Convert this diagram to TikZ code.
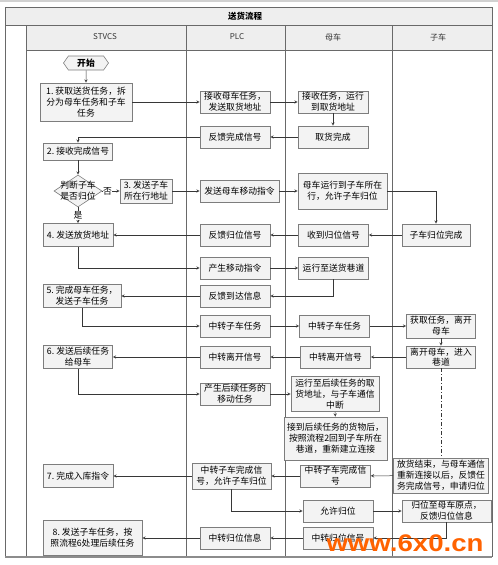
\documentclass[tikz,border=0pt]{standalone}
\usepackage{fontspec}
\usepackage{tikz}
\usetikzlibrary{shapes.geometric, shapes.symbols, arrows, shadows}
\newfontfamily\cjk{Noto Sans CJK SC}
\newfontfamily\markfont{Liberation Sans}
\definecolor{laneline}{RGB}{105,105,105}
\definecolor{boxfill}{RGB}{243,243,243}
\definecolor{boxdraw}{RGB}{125,125,125}
\definecolor{headfill}{RGB}{238,238,238}
\definecolor{linkgray}{RGB}{55,55,55}
\definecolor{markorange}{RGB}{255,98,0}
\tikzset{
  box/.style={rectangle, minimum width=70pt, minimum height=22pt, inner sep=1pt,
    align=center, draw=boxdraw, line width=0.6pt, fill=boxfill,
    font=\cjk\fontsize{8.8}{10.8}\selectfont,
    drop shadow={shadow xshift=0.8pt, shadow yshift=-0.8pt, fill=black!30}},
  decision/.style={diamond, minimum width=48pt, minimum height=32pt, inner sep=0pt,
    draw=boxdraw, line width=0.6pt, fill=boxfill},
  startend/.style={signal, signal to=west and east, signal pointer angle=110,
    minimum width=45pt, minimum height=14pt, inner sep=0pt, draw=boxdraw,
    line width=0.6pt, fill=boxfill, font=\cjk\fontsize{8.8}{10.8}\selectfont\bfseries},
  lanehead/.style={font=\cjk\fontsize{8}{10}\selectfont, text=black!80},
  tag/.style={font=\cjk\fontsize{8.8}{10.8}\selectfont, fill=white, inner sep=0.5pt},
  arrow/.style={->, >=stealth, draw=linkgray, line width=0.5pt},
  subpath/.style={draw=linkgray, line width=0.5pt, dash pattern=on 4pt off 2pt on 1pt off 2pt}
}
\begin{document}
\begin{tikzpicture}[x=1pt, y=-1pt]
\useasboundingbox (0,0) rectangle (498,565);
% frame, title and lanes
\fill[black!18] (0,0) rectangle (498,2);
\fill[headfill] (5,7) rectangle (492,25);
\fill[headfill] (26,25) rectangle (492,50);
\draw[laneline, line width=0.8pt] (5,7) rectangle (492,556);
\draw[black!45, line width=1.6pt] (5,557) -- (492,557);
\draw[laneline, line width=0.6pt] (5,25) -- (492,25);
\draw[laneline, line width=0.6pt] (26,50) -- (492,50);
\foreach \lx in {26,186,285,392}
  \draw[laneline, line width=0.7pt] (\lx,25) -- (\lx,556);
\node (title) [font=\cjk\fontsize{8.5}{10}\selectfont\bfseries] at (245,16) {送货流程};
\node (hstv) [lanehead] at (105,37) {STVCS};
\node (hplc) [lanehead] at (237,37) {PLC};
\node (hmom) [lanehead] at (333,37) {母车};
\node (hsub) [lanehead] at (438,37) {子车};

% STVCS
\node (start) [startend] at (86,63) {开始};
\node (stv1) [box, minimum width=92pt, minimum height=38pt] at (86,102) {1.\ 获取送货任务，拆\\分为母车任务和子车\\任务};
\node (stv2) [box, minimum width=69pt, minimum height=17pt] at (78,151.5) {2.\ 接收完成信号};
\node (dec) [decision, label={[font=\cjk\fontsize{8.8}{10.8}\selectfont, align=center]center:判断子车\\是否归位}] at (78,191) {};
\node (stv3) [box, minimum width=52pt, minimum height=24pt] at (146,191) {3.\ 发送子车\\所在行地址};
\node (stv4) [box, minimum width=70pt, minimum height=23pt] at (78,235) {4.\ 发送放货地址};
\node (stv5) [box, minimum width=78pt, minimum height=23pt] at (82,296) {5.\ 完成母车任务，\\发送子车任务};
\node (stv6) [box, minimum width=69pt, minimum height=23pt] at (78,357) {6.\ 发送后续任务\\给母车};
\node (stv7) [box, minimum width=70pt, minimum height=23pt] at (78,476) {7.\ 完成入库指令};
\node (stv8) [box, minimum width=99pt, minimum height=35pt] at (92.5,538) {8.\ 发送子车任务，按\\照流程6处理后续任务};

% PLC
\node (plc1) [box] at (235,102) {接收母车任务，\\发送取货地址};
\node (plc2) [box] at (235,137) {反馈完成信号};
\node (plc3) [box, minimum width=79pt] at (239.5,191) {发送母车移动指令};
\node (plc4) [box] at (235,235) {反馈归位信号};
\node (plc5) [box] at (235,268) {产生移动指令};
\node (plc6) [box] at (235,296) {反馈到达信息};
\node (plc7) [box] at (235,326) {中转子车任务};
\node (plc8) [box] at (235,357) {中转离开信号};
\node (plc9) [box] at (235,394) {产生后续任务的\\移动任务};
\node (plc10) [box, minimum width=79pt, minimum height=26pt] at (231.5,476) {中转子车完成信\\号，允许子车归位};
\node (plc11) [box] at (235,538) {中转归位信息};

% 母车
\node (mom1) [box] at (333,102) {接收任务，运行\\到取货地址};
\node (mom2) [box] at (333,137) {取货完成};
\node (mom3) [box, minimum width=89pt, minimum height=36pt] at (342.5,191) {母车运行到子车所在\\行，允许子车归位};
\node (mom4) [box] at (333.5,235) {收到归位信号};
\node (mom5) [box] at (333.5,268) {运行至送货巷道};
\node (mom6) [box] at (334.5,326) {中转子车任务};
\node (mom7) [box] at (335.5,357) {中转离开信号};
\node (mom8) [box, minimum width=88pt, minimum height=35pt] at (335,394) {运行至后续任务的取\\货地址，与子车通信\\中断};
\node (mom9) [box, minimum width=103pt, minimum height=43pt] at (335.5,438.5) {接到后续任务的货物后，\\按照流程2回到子车所在\\巷道，重新建立连接};
\node (mom10) [box] at (335.5,476) {中转子车完成信\\号};
\node (mom11) [box] at (338,511) {允许归位};
\node (mom12) [box] at (338,538) {中转归位信号};

% 子车
\node (sub1) [box, minimum width=68pt] at (436,235) {子车归位完成};
\node (sub2) [box, minimum width=69pt, minimum height=24pt] at (441,326) {获取任务，离开\\母车};
\node (sub3) [box, minimum width=69pt] at (441,357) {离开母车，进入\\巷道};
\node (sub4) [box, minimum width=95pt, minimum height=35pt] at (441,475.5) {放货结束，与母车通信\\重新连接以后，反馈任\\务完成信号，申请归位};
\node (sub5) [box, minimum width=89pt] at (446.5,511) {归位至母车原点，\\反馈归位信息};

% connectors
\draw[arrow] (start) -- (stv1);
\draw[arrow] (stv1) -- (plc1);
\draw[arrow] (plc1) -- (mom1);
\draw[arrow] (mom1) -- (mom2);
\draw[arrow] (mom2) -- (plc2);
\draw[arrow] (plc2) -| (stv2);
\draw[arrow] (stv2) -- (dec);
\draw[arrow] (dec) -- node[tag, pos=0.3]{否} (stv3);
\draw[arrow] (stv3) -- (plc3);
\draw[arrow] (plc3) -- (mom3);
\draw[arrow] (mom3) -| (sub1);
\draw[arrow] (sub1) -- (mom4);
\draw[arrow] (mom4) -- (plc4);
\draw[arrow] (plc4) -- (stv4);
\draw[arrow] (dec) -- node[tag, pos=0.5]{是} (stv4);
\draw[arrow] (stv4) |- (plc5);
\draw[arrow] (plc5) -- (mom5);
\draw[arrow] (mom5) |- (plc6);
\draw[arrow] (plc6) -- (stv5);
\draw[arrow] (stv5) |- (plc7);
\draw[arrow] (plc7) -- (mom6);
\draw[arrow] (mom6) -- (sub2);
\draw[arrow] (sub2) -- (sub3);
\draw[arrow] (sub3) -- (mom7);
\draw[arrow] (mom7) -- (plc8);
\draw[arrow] (plc8) -- (stv6);
\draw[arrow] (stv6) |- (plc9);
\draw[arrow] (plc9) -- (mom8);
\draw[arrow] (mom8) -- (mom9);
\draw[subpath] (sub3) -- (sub4);
\draw[arrow] (sub4) -- (mom10);
\draw[arrow] (mom10) -- (plc10);
\draw[arrow] (plc10) -- (stv7);
\draw[arrow] (plc10) |- (mom11);
\draw[arrow] (mom11) -- (sub5);
\draw[arrow] (sub5) |- (mom12);
\draw[arrow] (mom12) -- (plc11);
\draw[arrow] (plc11) -- (stv8);

% watermark
\node (mark) [font=\markfont\bfseries\fontsize{24}{24}\selectfont, text=markorange, inner sep=0pt] at (405,543) {\scalebox{1.15}[1]{www.6x0.cn}};
\end{tikzpicture}
\end{document}
